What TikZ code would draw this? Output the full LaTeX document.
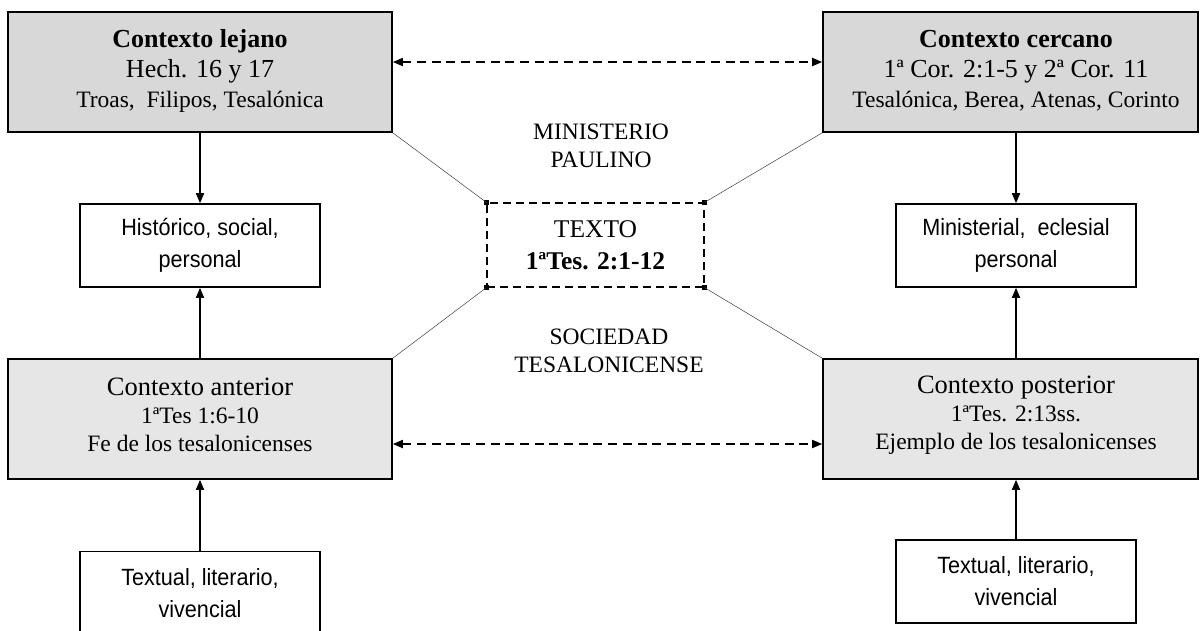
\documentclass[tikz,border=0pt]{standalone}
\usepackage{fontspec}
\setmainfont{Liberation Serif}
\newfontfamily\narrowsans[FakeStretch=0.92]{Liberation Sans}
\usetikzlibrary{arrows.meta}
\definecolor{topgray}{HTML}{D8D8D8}
\definecolor{botgray}{HTML}{E6E6E6}
\begin{document}
\begin{tikzpicture}[x=1pt,y=-1pt,
  ctxbox/.style={draw=black, line width=1.6pt, minimum height=120pt, inner sep=0pt},
  ctxtext/.style={align=center, inner sep=0pt},
  whitebox/.style={draw=black, fill=white, line width=1.6pt, minimum width=240pt, minimum height=83pt, inner sep=0pt, align=center, font=\narrowsans\fontsize{23.5}{32}\selectfont},
  arr/.style={line width=1.6pt, -{Triangle[length=10pt,width=8pt]}},
  darr/.style={line width=1.7pt, dash pattern=on 9pt off 5.7pt, {Triangle[length=10pt,width=8pt]}-{Triangle[length=10pt,width=8pt]}},
  thinline/.style={line width=0.5pt, draw=black!75},
  midlabel/.style={align=center, inner sep=0pt, font=\fontsize{23.5}{28}\selectfont},
  cornerdot/.style={fill=black, minimum size=5pt, inner sep=0pt}
]
\useasboundingbox (0,0) rectangle (1200,630);
\fill[white] (0,0) rectangle (1200,630);

% grey context boxes
\node[ctxbox, fill=topgray, minimum width=384pt] (lejano) at (200,72) {};
\node[ctxtext, font=\fontsize{26}{30}\selectfont] (lejanotxt) at (200,71)
  {\textbf{Contexto lejano}\\Hech. 16 y 17\\\fontsize{23.5}{30}\selectfont Troas,\ \ Filipos, Tesalónica};

\node[ctxbox, fill=topgray, minimum width=375pt] (cercano) at (1010.5,72) {};
\node[ctxtext, font=\fontsize{26}{30}\selectfont] (cercanotxt) at (1016,71)
  {\textbf{Contexto cercano}\\1ª Cor. 2:1-5 y 2ª Cor. 11\\\fontsize{23.5}{30}\selectfont Tesalónica, Berea, Atenas, Corinto};

\node[ctxbox, fill=botgray, minimum width=384pt] (anterior) at (200,419) {};
\node[ctxtext, font=\fontsize{23.5}{28}\selectfont] (anteriortxt) at (200,415)
  {\fontsize{26.5}{28}\selectfont Contexto anterior\\1ªTes 1:6-10\\Fe de los tesalonicenses};

\node[ctxbox, fill=botgray, minimum width=375pt] (posterior) at (1010.5,419) {};
\node[ctxtext, font=\fontsize{23.5}{28}\selectfont] (posteriortxt) at (1016,415)
  {\fontsize{26.5}{28}\selectfont Contexto posterior\\1ªTes. 2:13ss.\\Ejemplo de los tesalonicenses};

% white boxes
\node[whitebox] (historico) at (200,245.5) {Histórico, social,\\personal};
\node[whitebox] (ministerial) at (1016,245.5) {Ministerial,\ \ eclesial\\personal};
\node[whitebox] (textualL) at (200,593) {Textual, literario,\\vivencial};
\node[whitebox] (textualR) at (1016,581.5) {Textual, literario,\\vivencial};

% central text box
\node[draw=black, line width=1.3pt, dash pattern=on 8pt off 5pt, minimum width=217pt, minimum height=84pt, inner sep=0pt, align=center, font=\fontsize{25.5}{32}\selectfont] (texto) at (595.5,245) {TEXTO\\\textbf{1ªTes. 2:1-12}};
\node[cornerdot] (cnw) at (texto.north west) {};
\node[cornerdot] (cne) at (texto.north east) {};
\node[cornerdot] (csw) at (texto.south west) {};
\node[cornerdot] (cse) at (texto.south east) {};

% labels
\node[midlabel] (ministerio) at (601,146) {MINISTERIO\\PAULINO};
\node[midlabel] (sociedad) at (609,351) {SOCIEDAD\\TESALONICENSE};

% thin lines
\draw[thinline] (lejano.south east) -- (cnw.center);
\draw[thinline] (cercano.south west) -- (cne.center);
\draw[thinline] (anterior.north east) -- (csw.center);
\draw[thinline] (posterior.north west) -- (cse.center);

% solid arrows
\draw[arr] (lejano.south) -- (historico.north);
\draw[arr] (anterior.north) -- (historico.south);
\draw[arr] (textualL.north) -- (anterior.south);
\draw[arr] (ministerial.north |- cercano.south) -- (ministerial.north);
\draw[arr] (ministerial.south |- posterior.north) -- (ministerial.south);
\draw[arr] (textualR.north) -- (textualR.north |- posterior.south);

% dashed arrows
\draw[darr] ([yshift=10pt]lejano.east) -- ([yshift=10pt]cercano.west);
\draw[darr] ([yshift=-25pt]anterior.east) -- ([yshift=-25pt]posterior.west);
\end{tikzpicture}
\end{document}
